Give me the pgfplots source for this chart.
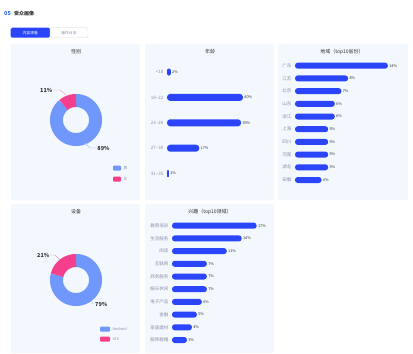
\documentclass[border=0pt]{standalone}
\usepackage{pgfplots}
\pgfplotsset{compat=1.18}
\usepackage{fontspec}
\setmainfont{Noto Sans CJK SC}
\definecolor{barblue}{HTML}{2B46FA}
\definecolor{lblue}{HTML}{7097FB}
\definecolor{pinkc}{HTML}{F53F8C}
\definecolor{panel}{HTML}{F3F7FE}
\definecolor{lab}{HTML}{8A90A6}
\definecolor{txt}{HTML}{333333}
\definecolor{hblue}{HTML}{2F6BFF}
\newcommand{\fs}[1]{\fontsize{#1}{#1}\selectfont}
\pgfplotsset{
  /pgf/number format/assume math mode=true,
  hbar/.style={
    scale only axis, anchor=north west, xmin=0, y dir=reverse, ymin=-0.5,
    axis line style={draw=none}, tick style={draw=none}, major tick length=0pt,
    xtick=\empty, clip=false, xbar,
    yticklabel style={font=\fs{4.5}, text=lab, inner sep=0pt, xshift=-3.5pt},
    nodes near coords={\pgfmathprintnumber{\pgfplotspointmeta}\%},
    point meta=x,
    every node near coord/.append style={font=\fs{3.8}, text=txt, inner sep=1.2pt},
  },
  donut/.style={
    scale only axis, anchor=center, width=60pt, height=60pt,
    xmin=-30, xmax=30, ymin=-30, ymax=30, hide axis, clip=false
  }
}
\begin{document}
\begin{tikzpicture}
\useasboundingbox (0,0) rectangle (413pt,-354pt);
\fill[white] (0,0) rectangle (413pt,-354pt);
% header
\node[anchor=west, inner sep=0pt, font=\fs{5.5}\bfseries, text=hblue] at (4pt,-14pt) {05};
\node[anchor=west, inner sep=0pt, font=\fs{5}\bfseries, text=txt] at (14pt,-14pt) {受众画像};
\fill[barblue, rounded corners=1.5pt] (10.7pt,-27.7pt) rectangle (50pt,-37.7pt);
\draw[gray!30, fill=white, rounded corners=1.5pt] (50pt,-27.7pt) rectangle (88pt,-37.7pt);
\node[font=\fs{3.8}, text=white] at (30.3pt,-32.7pt) {内容观看};
\node[font=\fs{3.8}, text=lab] at (69pt,-32.7pt) {操作点击};
% panels
\fill[panel, rounded corners=2pt] (11pt,-44pt) rectangle (140pt,-200pt);
\fill[panel, rounded corners=2pt] (145pt,-44pt) rectangle (274pt,-200pt);
\fill[panel, rounded corners=2pt] (278pt,-44pt) rectangle (408pt,-200pt);
\fill[panel, rounded corners=2pt] (11pt,-204pt) rectangle (140pt,-353pt);
\fill[panel, rounded corners=2pt] (145pt,-204pt) rectangle (274pt,-353pt);
% titles
\node[font=\fs{5}, text=txt] at (76pt,-52pt) {性别};
\node[font=\fs{5}, text=txt] at (210pt,-52pt) {年龄};
\node[font=\fs{5}, text=txt] at (342pt,-52pt) {地域（top10省份）};
\node[font=\fs{5}, text=txt] at (76pt,-212pt) {设备};
\node[font=\fs{5}, text=txt] at (210pt,-212pt) {兴趣（top10领域）};

% gender donut
\begin{axis}[donut, at={(76pt,-120pt)}]
\addplot[lblue, line width=13pt, domain=129.6:450, samples=90] ({19.5*cos(x)},{19.5*sin(x)});
\addplot[pinkc, line width=13pt, domain=90:129.6, samples=20] ({19.5*cos(x)},{19.5*sin(x)});
\addplot[pinkc!60, line width=0.4pt] coordinates {(-23,30) (-16,30) (-10,25)};
\addplot[lblue!60, line width=0.4pt] coordinates {(9,-23) (14,-28) (20.7,-28)};
\node[anchor=east, inner sep=0.5pt, font=\fs{5.5}\bfseries, text=txt] at (axis cs:-23,30) {11\%};
\node[anchor=west, inner sep=0.5pt, font=\fs{5.5}\bfseries, text=txt] at (axis cs:20.7,-28) {89\%};
\end{axis}
\fill[lblue, rounded corners=1pt] (113pt,-165.5pt) rectangle (121pt,-170.5pt);
\fill[pinkc, rounded corners=1pt] (113pt,-176.5pt) rectangle (121pt,-181.5pt);
\node[anchor=west, inner sep=0pt, font=\fs{3.8}, text=lab] at (123.5pt,-168pt) {男};
\node[anchor=west, inner sep=0pt, font=\fs{3.8}, text=lab] at (123.5pt,-179pt) {女};

% device donut
\begin{axis}[donut, at={(76pt,-280pt)}]
\addplot[lblue, line width=13pt, domain=165.6:450, samples=90] ({19.5*cos(x)},{19.5*sin(x)});
\addplot[pinkc, line width=13pt, domain=90:165.6, samples=30] ({19.5*cos(x)},{19.5*sin(x)});
\addplot[pinkc!60, line width=0.4pt] coordinates {(-26,25) (-21,25) (-16,20)};
\addplot[lblue!60, line width=0.4pt] coordinates {(15.5,-20.5) (17,-24) (18.5,-24)};
\node[anchor=east, inner sep=0.5pt, font=\fs{5.5}\bfseries, text=txt] at (axis cs:-26,25) {21\%};
\node[anchor=west, inner sep=0.5pt, font=\fs{5.5}\bfseries, text=txt] at (axis cs:18.5,-24) {79\%};
\end{axis}
\fill[lblue, rounded corners=1pt] (100pt,-326.5pt) rectangle (110pt,-331.5pt);
\fill[pinkc, rounded corners=1pt] (100pt,-336.5pt) rectangle (110pt,-341.5pt);
\node[anchor=west, inner sep=0pt, font=\fs{3.8}, text=lab] at (112.5pt,-329pt) {Android};
\node[anchor=west, inner sep=0pt, font=\fs{3.8}, text=lab] at (112.5pt,-339pt) {iOS};

% age
\begin{axis}[hbar, at={(167pt,-59.3pt)}, width=95pt, height=127pt, xmax=50, ymax=4.5,
  bar width=7pt, ytick={0,...,4}, yticklabels={<18,18--22,23--26,27--30,31--35}]
\addplot[fill=barblue, draw=none, rounded corners=3.2pt, bar shift=0pt] coordinates {(40,1) (39,2) (17,3)};
\addplot[fill=barblue, draw=none, rounded corners=1.4pt, bar shift=0pt] coordinates {(2,0)};
\addplot[fill=barblue, draw=none, rounded corners=0.7pt, bar shift=0pt] coordinates {(1,4)};
\end{axis}

% region
\begin{axis}[hbar, at={(295pt,-59.35pt)}, width=106.2pt, height=127pt, xmax=16, ymax=9.5,
  bar width=6pt, ytick={0,...,9}, yticklabels={广东,江苏,北京,山东,浙江,上海,四川,河南,湖北,安徽}]
\addplot[fill=barblue, draw=none, rounded corners=2.8pt] coordinates {(14,0) (8,1) (7,2) (6,3) (6,4) (5,5) (5,6) (5,7) (5,8) (4,9)};
\end{axis}

% interest
\begin{axis}[hbar, at={(172pt,-219.35pt)}, width=99.6pt, height=127pt, xmax=20, ymax=9.5,
  bar width=6pt, ytick={0,...,9}, yticklabels={教育培训,生活服务,阅读,互联网,商务服务,娱乐休闲,电子产品,金融,家居建材,服饰鞋帽}]
\addplot[fill=barblue, draw=none, rounded corners=2.8pt] coordinates {(17,0) (14,1) (11,2) (7,3) (7,4) (7,5) (6,6) (5,7) (4,8) (3,9)};
\end{axis}
\end{tikzpicture}
\end{document}
